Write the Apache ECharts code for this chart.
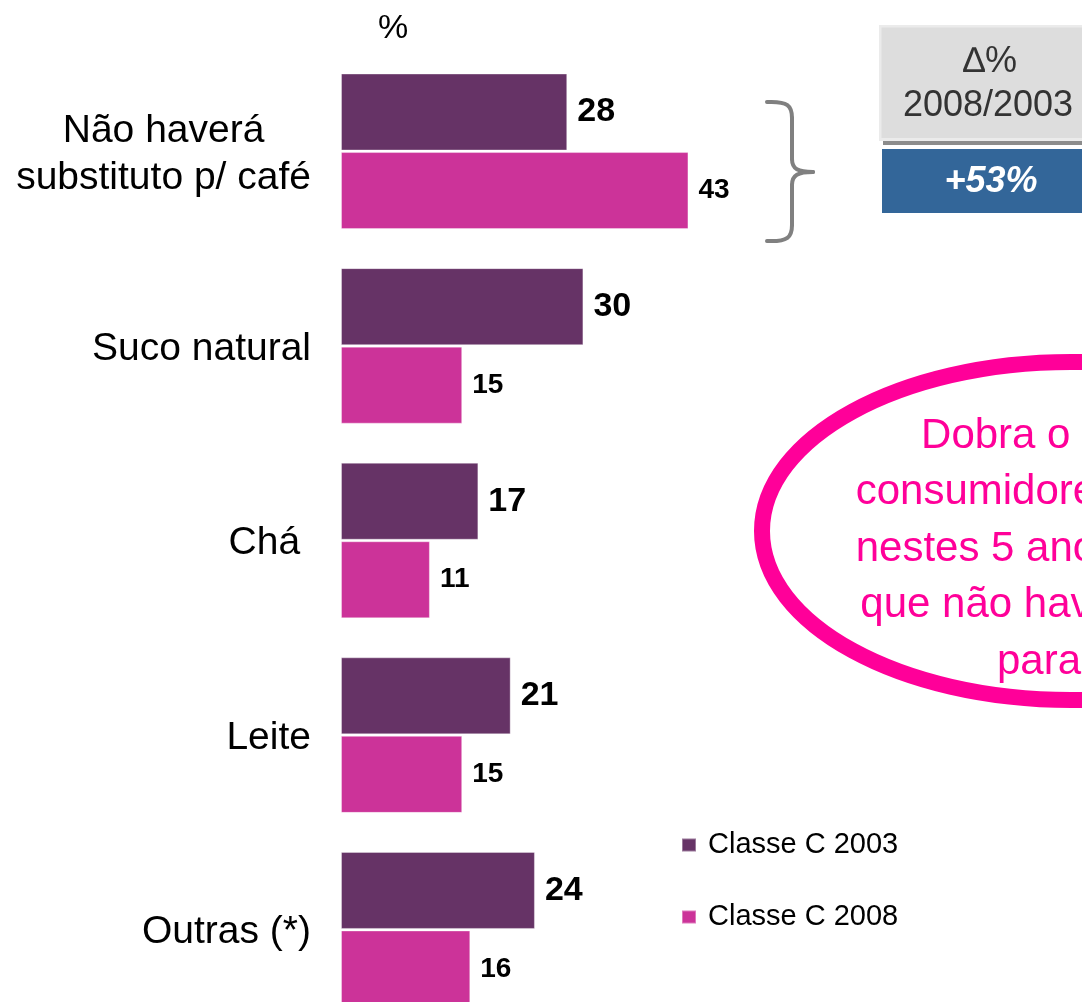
<!DOCTYPE html>
<html>
<head>
<meta charset="utf-8">
<script src="https://cdn.jsdelivr.net/npm/echarts@6/dist/echarts.min.js"></script>
<style>
  html, body { margin: 0; padding: 0; background: #fff; }
  #chart { width: 1082px; height: 1002px; }
</style>
</head>
<body>
<div id="chart"></div>
<script>
// Substitutos para o café, Classe C, 2003 vs 2008 (%)
const categories = ['Não haverá\nsubstituto p/ café', 'Suco natural', 'Chá ', 'Leite', 'Outras (*)'];
const seriesNames = ['Classe C 2003', 'Classe C 2008'];
const values2003 = [28, 30, 17, 21, 24];
const values2008 = [43, 15, 11, 15, 16];
const deltaText = '+53%';
const noteLines = ['Dobra o número de', 'consumidores da classe C', 'nestes 5 anos, declarando', 'que não haverá substituto', 'para o café'];

const FONT = '"Liberation Sans", Arial, sans-serif';
const DARK = '#663366';
const PINK = '#cc3399';

const chart = echarts.init(document.getElementById('chart'), null, { renderer: 'canvas' });

function barLabel(size) {
  return {
    show: true,
    position: 'right',
    distance: 10,
    color: '#000',
    fontFamily: FONT,
    fontWeight: 'bold',
    fontSize: size
  };
}

// curly brace built from curves and straight strokes
function brace(x0, xs, xt, yTop, yMid, yBot) {
  const st = { fill: null, stroke: '#808080', lineWidth: 4, lineCap: 'round' };
  const r = 16;
  return [
    { type: 'bezierCurve', shape: { x1: x0, y1: yTop, cpx1: xs - 4, cpy1: yTop - 1, cpx2: xs, cpy2: yTop + 4, x2: xs, y2: yTop + r }, style: st },
    { type: 'line', shape: { x1: xs, y1: yTop + r, x2: xs, y2: yMid - 13 }, style: st },
    { type: 'bezierCurve', shape: { x1: xs, y1: yMid - 13, cpx1: xs, cpy1: yMid - 3, cpx2: xs + 6, cpy2: yMid, x2: xt, y2: yMid }, style: st },
    { type: 'bezierCurve', shape: { x1: xt, y1: yMid, cpx1: xs + 6, cpy1: yMid, cpx2: xs, cpy2: yMid + 3, x2: xs, y2: yMid + 13 }, style: st },
    { type: 'line', shape: { x1: xs, y1: yMid + 13, x2: xs, y2: yBot - r }, style: st },
    { type: 'bezierCurve', shape: { x1: xs, y1: yBot - r, cpx1: xs, cpy1: yBot - 4, cpx2: xs - 4, cpy2: yBot + 1, x2: x0, y2: yBot }, style: st }
  ];
}

// ellipse outline as four cubic arcs
function ellipseArcs(cx, cy, rx, ry, stroke, lw) {
  const k = 0.5523;
  const st = { fill: null, stroke: stroke, lineWidth: lw, lineCap: 'butt' };
  const pts = [
    [cx + rx, cy, cx + rx, cy + k * ry, cx + k * rx, cy + ry, cx, cy + ry],
    [cx, cy + ry, cx - k * rx, cy + ry, cx - rx, cy + k * ry, cx - rx, cy],
    [cx - rx, cy, cx - rx, cy - k * ry, cx - k * rx, cy - ry, cx, cy - ry],
    [cx, cy - ry, cx + k * rx, cy - ry, cx + rx, cy - k * ry, cx + rx, cy]
  ];
  return pts.map(p => ({
    type: 'bezierCurve',
    shape: { x1: p[0], y1: p[1], cpx1: p[2], cpy1: p[3], cpx2: p[4], cpy2: p[5], x2: p[6], y2: p[7] },
    style: st
  }));
}

chart.setOption({
  animation: false,
  backgroundColor: '#ffffff',
  title: {
    text: '%',
    left: 378,
    top: 12,
    padding: 0,
    textStyle: { fontFamily: FONT, fontSize: 34, fontWeight: 'normal', color: '#000' }
  },
  legend: {
    orient: 'vertical',
    left: 681,
    top: 830,
    padding: 0,
    icon: 'rect',
    itemWidth: 14,
    itemHeight: 13,
    itemGap: 42,
    data: seriesNames,
    textStyle: { fontFamily: FONT, fontSize: 29, lineHeight: 30, color: '#000', padding: [0, 0, 0, 7] }
  },
  grid: {
    left: 341,
    top: 54,
    width: 404,
    height: 973,
    containLabel: false,
    outerBoundsMode: 'none'
  },
  xAxis: {
    type: 'value',
    min: 0,
    max: 50,
    show: false
  },
  yAxis: {
    type: 'category',
    inverse: true,
    data: categories,
    axisLine: { show: false },
    axisTick: { show: false },
    axisLabel: {
      margin: 30,
      align: 'right',
      padding: [6, 0, 0, 0],
      formatter: v => v.split('\n').map(l => '{c|' + l + '}').join('\n'),
      rich: {
        c: { align: 'center', fontFamily: FONT, fontSize: 39, lineHeight: 47, color: '#000' }
      }
    }
  },
  series: [
    {
      name: seriesNames[0],
      type: 'bar',
      data: values2003,
      barWidth: 77,
      barGap: '2%',
      itemStyle: { color: DARK, borderColor: 'rgba(255,255,255,0.35)', borderWidth: 1 },
      label: barLabel(34)
    },
    {
      name: seriesNames[1],
      type: 'bar',
      data: values2008,
      barWidth: 77,
      itemStyle: { color: PINK, borderColor: 'rgba(255,255,255,0.35)', borderWidth: 1 },
      label: barLabel(28)
    }
  ],
  graphic: [].concat(
    brace(767, 792, 813, 102, 172, 241),
    [
      // header box with shadow
      { type: 'rect', shape: { x: 883, y: 30, width: 240, height: 115 }, style: { fill: '#8c8c8c' } },
      { type: 'rect', shape: { x: 879, y: 25, width: 240, height: 116 }, style: { fill: '#ebebeb' } },
      { type: 'rect', shape: { x: 881.5, y: 27.5, width: 240, height: 110.5 }, style: { fill: '#dddddd' } },
      {
        type: 'text',
        style: { x: 990, y: 62, text: '\u2206%', align: 'center', verticalAlign: 'middle', fontFamily: FONT, fontSize: 36, fill: '#333' }
      },
      {
        type: 'text',
        style: { x: 988, y: 106, text: '2008/2003', align: 'center', verticalAlign: 'middle', fontFamily: FONT, fontSize: 36, fill: '#333' }
      },
      { type: 'rect', shape: { x: 882, y: 149, width: 240, height: 64 }, style: { fill: '#336699' } },
      {
        type: 'text',
        style: { x: 991, y: 182, text: deltaText, align: 'center', verticalAlign: 'middle', fontFamily: FONT, fontSize: 36, fontWeight: 'bold', fontStyle: 'italic', fill: '#fff' }
      }
    ],
    ellipseArcs(1071, 531, 309, 169, '#ff0099', 16),
    [
      {
        type: 'text',
        style: {
          x: 1102, y: 549,
          text: noteLines.join('\n'),
          align: 'center', verticalAlign: 'middle',
          fontFamily: FONT, fontSize: 42, lineHeight: 56.5, fill: '#ff0099'
        }
      }
    ]
  )
});
</script>
</body>
</html>
